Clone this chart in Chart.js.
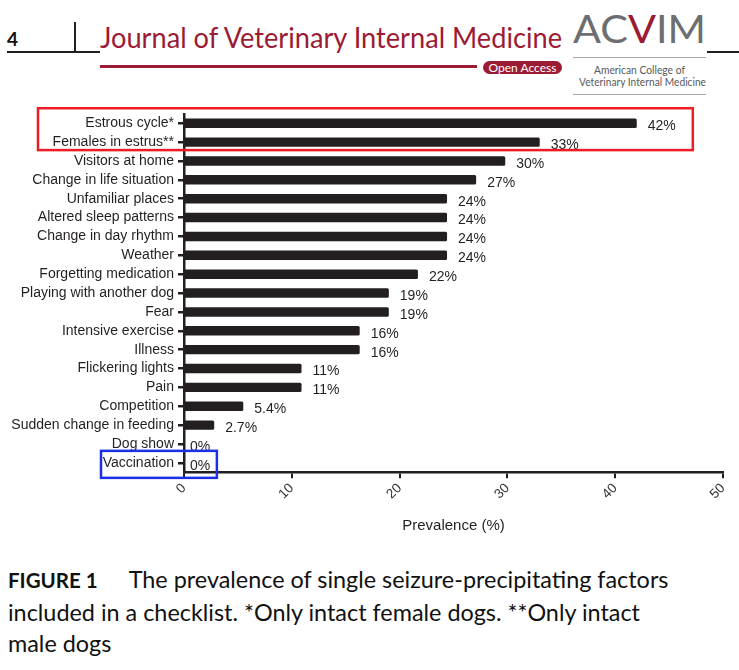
<!DOCTYPE html>
<html>
<head>
<meta charset="utf-8">
<title>Seizure-precipitating factors</title>
<script src="https://cdn.jsdelivr.net/npm/chart.js@4.4.1/dist/chart.umd.min.js"></script>
<style>
  body { margin: 0; background: #fff; }
  #page { position: relative; width: 739px; height: 670px; overflow: hidden; font-family: Lato, "Open Sans", sans-serif; }
  .abs { position: absolute; white-space: nowrap; }
  .rule { position: absolute; }
  #chart { position: absolute; left: 0; top: 100px; }
  .cap { position: absolute; left: 8px; font-size: 23.4px; line-height: 32px; color: #111; white-space: nowrap; }
  .cap b { font-size: 20.5px; }
</style>
</head>
<body>
<div id="page">
  <!-- running header -->
  <div class="abs" style="left:7px;top:29px;font-size:19px;line-height:19px;font-weight:bold;color:#111;">4</div>
  <div class="rule" style="left:7px;top:50.5px;width:93px;height:2px;background:#231f20;"></div>
  <div class="rule" style="left:74px;top:22px;width:2px;height:30px;background:#231f20;"></div>
  <div class="abs fit" data-w="462" style="left:100px;top:23px;font-size:28px;line-height:28px;color:#9b1b34;">Journal of Veterinary Internal Medicine</div>
  <div class="rule" style="left:100px;top:64.5px;width:377px;height:3.3px;background:#9b1b34;"></div>
  <div class="abs" style="left:483px;top:60.5px;width:79px;height:13px;border-radius:7px;background:#9b1b34;color:#fff;font-size:12px;line-height:13px;text-align:center;">Open Access</div>

  <div class="abs fit" data-w="133" style="left:573px;top:9px;font-size:39px;line-height:39px;color:#6d6e71;">AC<span style="color:#9b1b34;">V</span>IM</div>
  <div class="rule" style="left:707px;top:50.5px;width:32px;height:2px;background:#231f20;"></div>
  <div class="rule" style="left:573px;top:57px;width:133px;height:1px;background:#a7a9ac;"></div>
  <div class="abs fit" data-w="91" style="left:594px;top:64px;font-size:10.5px;line-height:12px;color:#58595b;">American College of</div>
  <div class="abs fit" data-w="127" style="left:579px;top:75.5px;font-size:10.5px;line-height:12px;color:#58595b;">Veterinary Internal Medicine</div>
  <div class="rule" style="left:573px;top:94px;width:133px;height:1px;background:#a7a9ac;"></div>

  <canvas id="chart" width="739" height="445"></canvas>

  <!-- figure caption -->
  <div class="cap" style="top:563px;"><b>FIGURE 1</b><span style="display:inline-block;width:31px;"></span>The prevalence of single seizure-precipitating factors</div>
  <div class="cap" style="top:596px;">included in a checklist. *Only intact female dogs. **Only intact</div>
  <div class="cap" style="top:627px;">male dogs</div>
</div>

<script>
// data
const factors = [
  'Estrous cycle*', 'Females in estrus**', 'Visitors at home', 'Change in life situation',
  'Unfamiliar places', 'Altered sleep patterns', 'Change in day rhythm', 'Weather',
  'Forgetting medication', 'Playing with another dog', 'Fear', 'Intensive exercise',
  'Illness', 'Flickering lights', 'Pain', 'Competition', 'Sudden change in feeding',
  'Dog show', 'Vaccination'
];
const prevalence = [42, 33, 29.8, 27.1, 24.4, 24.4, 24.4, 24.4, 21.7, 19, 19, 16.3, 16.3, 10.9, 10.9, 5.5, 2.8, 0, 0];
const valueText = ['42%', '33%', '30%', '27%', '24%', '24%', '24%', '24%', '22%', '19%', '19%', '16%', '16%', '11%', '11%', '5.4%', '2.7%', '0%', '0%'];
const xTicks = [0, 10, 20, 30, 40, 50];

// squeeze header text to the widths in the print
document.querySelectorAll('.fit').forEach(function(el) {
  var w = el.getBoundingClientRect().width;
  el.style.transformOrigin = 'left top';
  el.style.transform = 'scaleX(' + (el.dataset.w / w) + ')';
});

const ink = '#231f20';
const sans = '"Liberation Sans", Arial, sans-serif';

// percentages to the right of each bar
const valueLabels = {
  id: 'valueLabels',
  afterDatasetsDraw(chart) {
    const ctx = chart.ctx;
    const meta = chart.getDatasetMeta(0);
    ctx.save();
    ctx.font = '14px ' + sans;
    ctx.fillStyle = ink;
    ctx.textAlign = 'left';
    ctx.textBaseline = 'middle';
    meta.data.forEach(function(bar, i) {
      const gap = prevalence[i] > 0 ? 11 : 6;
      ctx.fillText(valueText[i], bar.x + gap, bar.y + 3);
    });
    ctx.restore();
  }
};

// the red and blue highlight frames
const highlightBoxes = {
  id: 'highlightBoxes',
  afterDraw(chart) {
    const ctx = chart.ctx;
    const area = chart.chartArea;
    const x = chart.scales.x, y = chart.scales.y;
    ctx.save();
    ctx.lineWidth = 2.5;

    ctx.strokeStyle = '#ed1c24';
    let left = area.left - 146, top = y.getPixelForValue(0) - 15, bottom = y.getPixelForValue(1) + 8;
    ctx.strokeRect(left, top, x.getPixelForValue(47.2) - left, bottom - top);

    ctx.strokeStyle = '#1b2fe8';
    left = area.left - 83;
    top = y.getPixelForValue(18) - 12;
    bottom = y.getPixelForValue(18) + 15;
    ctx.strokeRect(left, top, x.getPixelForValue(3.05) - left, bottom - top);
    ctx.restore();
  }
};

const chart = new Chart(document.getElementById('chart'), {
  type: 'bar',
  data: {
    labels: factors,
    datasets: [{
      data: prevalence,
      backgroundColor: ink,
      borderRadius: 1.5,
      borderSkipped: 'start',
      categoryPercentage: 1,
      barPercentage: 0.5
    }]
  },
  options: {
    indexAxis: 'y',
    responsive: false,
    animation: false,
    layout: { padding: { top: 13.8, right: 16, bottom: 0, left: 0 } },
    plugins: { legend: { display: false }, tooltip: { enabled: false } },
    scales: {
      x: {
        type: 'linear',
        min: 0,
        max: 50,
        afterBuildTicks: function(s) { s.ticks = xTicks.map(function(v) { return { value: v }; }); },
        afterFit: function(s) { s.height = 72.7; },
        border: { color: ink, width: 2.5 },
        grid: { drawOnChartArea: false, tickLength: 6, color: ink, lineWidth: 2 },
        ticks: { minRotation: 45, maxRotation: 45, padding: 2, color: '#333', font: { family: sans, size: 13.5 } },
        title: { display: true, text: 'Prevalence (%)', color: ink, font: { family: sans, size: 15 }, padding: { top: 0, bottom: 10 } }
      },
      y: {
        afterFit: function(s) { s.width = 184; },
        border: { color: ink, width: 2.5 },
        grid: { drawOnChartArea: false, offset: false, tickLength: 6, color: ink, lineWidth: 2.5 },
        ticks: { autoSkip: false, padding: 4, color: ink, font: { family: sans, size: 14 } }
      }
    }
  },
  plugins: [valueLabels, highlightBoxes]
});
</script>
</body>
</html>
